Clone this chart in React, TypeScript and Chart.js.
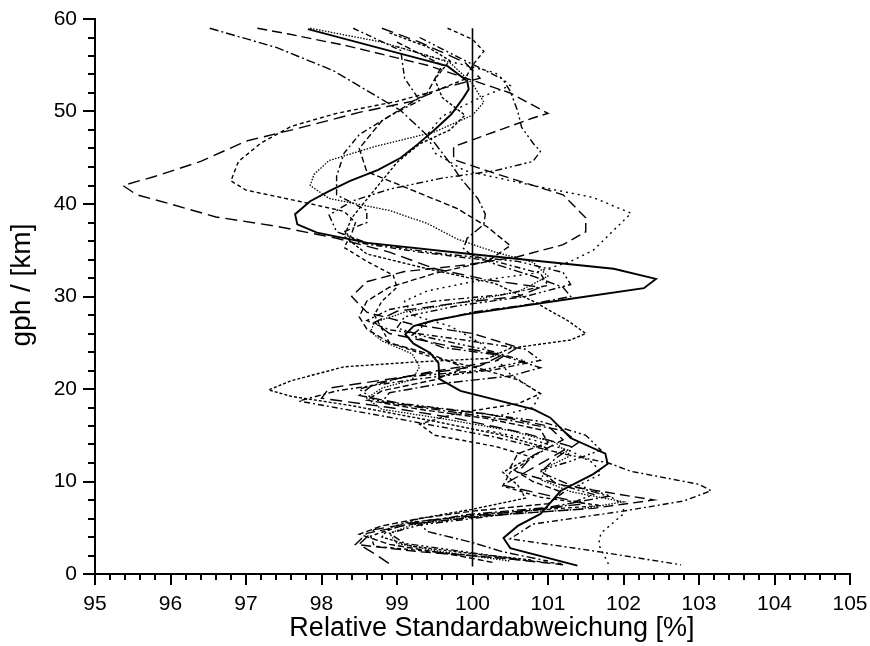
import React, { useEffect, useRef } from "react";
import { Chart, registerables } from "chart.js";

Chart.register(...registerables);

// ---- axis ranges and labels ----
const X_MIN = 95;
const X_MAX = 105;
const Y_MIN = 0;
const Y_MAX = 60;
const X_TITLE = "Relative Standardabweichung [%]";
const Y_TITLE = "gph / [km]";

// ---- reference line at 100 % ----
const referenceLine = [[100, 0.8], [100, 59]];

// ---- profiles: [relative std. dev. %, gph km] ----
const meanProfile = [
  [97.82, 58.9], [98.47, 57.5], [99.07, 56.2], [99.67, 54.9], [99.93, 53.3], [99.95, 52.4], [99.88, 51.5],
  [99.72, 49.7], [99.48, 47.9], [99.28, 46.5], [99.05, 45.0], [98.75, 43.7], [98.38, 42.5], [98.1, 41.4],
  [97.85, 40.3], [97.65, 38.9], [97.68, 37.8], [97.94, 36.9], [98.61, 35.8], [99.97, 34.6], [101.87, 33.0],
  [102.43, 31.9], [102.27, 30.9], [101.26, 29.7], [99.93, 28.1], [99.48, 27.4], [99.22, 26.8], [99.11, 25.9],
  [99.22, 24.9], [99.44, 23.9], [99.55, 22.8], [99.56, 21.1], [99.84, 19.8], [100.81, 17.8], [101.03, 16.9],
  [101.3, 14.7], [101.76, 13.0], [101.79, 11.9], [101.6, 10.8], [101.17, 9.0], [100.9, 6.5], [100.6, 5.2],
  [100.41, 3.9], [100.5, 2.8], [101.39, 0.9],
];

const profileA = [
  [97.15, 59], [97.55, 58.4], [98.34, 57.1], [99.4, 55.0], [100.5, 52.0], [101.0, 49.8], [100.8, 49.3],
  [99.75, 46.2], [99.75, 44.8], [100.3, 43.3], [101.2, 41.0], [101.5, 38.5], [101.5, 37.0], [101.2, 35.6],
  [100.6, 34.3], [99.9, 33.4], [99.1, 32.7], [98.6, 31.6], [98.4, 30.0], [98.6, 28.3], [99.2, 27.0],
  [100.0, 26.0], [100.6, 24.5], [100.3, 23.0], [99.4, 21.8], [98.7, 20.6], [98.5, 19.3], [99.2, 18.2],
  [100.2, 17.3], [101.0, 16.0], [101.2, 14.5], [100.8, 12.8], [100.6, 11.0], [101.2, 9.6], [102.4, 8.0],
  [101.6, 7.1], [100.2, 6.3], [99.2, 5.4], [98.6, 4.4], [98.45, 3.2], [99.3, 2.4], [100.4, 1.7], [101.2, 1.0],
];

const profileB = [
  [98.8, 59], [99.3, 57.5], [99.9, 55.3], [100.1, 53.6], [99.6, 52.5], [99.2, 51.1], [98.5, 49.9],
  [97.7, 48.2], [97.0, 46.8], [96.4, 44.6], [95.8, 43.0], [95.37, 42.0], [95.55, 41.0], [96.0, 40.0],
  [96.6, 38.6], [97.4, 37.6], [98.2, 36.3], [98.9, 34.8], [99.5, 33.0], [100.2, 31.8], [100.9, 31.0],
  [100.6, 30.0], [99.8, 29.3], [99.0, 28.4], [98.7, 27.2], [98.9, 26.0], [99.6, 24.8], [100.4, 23.7],
  [100.1, 22.5], [99.0, 21.2], [98.1, 20.1], [98.0, 19.0], [98.9, 18.0], [99.8, 16.8], [100.7, 15.2],
  [101.3, 13.8], [101.0, 12.4], [100.7, 11.0], [100.4, 9.6], [101.0, 8.5], [101.5, 7.6], [100.4, 6.6],
  [99.4, 5.8], [98.7, 4.8], [98.5, 3.2], [98.7, 2.2], [98.9, 1.1],
];

const profileC = [
  [99.67, 59], [100.0, 57.8], [100.15, 56.5], [100.0, 55.0], [99.9, 53.5], [99.5, 52.2], [99.0, 51.1],
  [98.2, 49.8], [97.6, 48.4], [97.2, 46.6], [96.9, 44.6], [96.8, 42.5], [97.0, 41.5], [97.7, 40.3],
  [98.3, 39.2], [98.45, 38.0], [98.4, 36.8], [98.3, 35.3], [98.6, 33.8], [98.95, 32.3], [99.0, 31.0],
  [98.8, 29.5], [98.7, 28.0], [98.8, 26.5], [98.9, 25.0], [99.4, 23.6], [100.1, 22.2], [100.6, 21.0],
  [100.9, 19.5], [100.6, 18.4], [99.8, 17.4], [99.3, 16.2], [99.5, 15.0], [100.3, 13.8], [100.8, 12.6],
  [100.5, 11.0], [100.4, 9.5], [100.9, 8.3], [101.7, 7.4], [100.15, 6.5], [99.2, 5.6], [98.65, 4.1],
  [98.7, 3.0], [100.0, 2.0], [101.2, 1.1],
];

const profileD = [
  [97.85, 59], [98.8, 57.5], [99.7, 55.3], [100.0, 53.0], [100.15, 51.0], [100.0, 49.6], [99.5, 47.8],
  [98.7, 46.2], [98.1, 44.7], [97.9, 43.2], [97.85, 42.0], [98.1, 40.6], [98.9, 39.3], [99.4, 37.9],
  [99.8, 36.2], [100.3, 34.8], [100.8, 33.7], [101.0, 32.2], [100.6, 30.5], [99.8, 29.3], [99.1, 28.3],
  [98.7, 27.2], [98.65, 26.2], [98.8, 25.2], [99.2, 23.8], [99.3, 22.4], [99.2, 21.0], [98.8, 20.1],
  [98.6, 19.0], [98.8, 17.8], [99.6, 16.8], [100.5, 15.5], [101.1, 14.2], [101.3, 12.8], [101.0, 11.6],
  [100.9, 10.2], [101.3, 8.9], [102.0, 7.8], [101.4, 7.0], [100.0, 6.2], [99.2, 5.3], [98.9, 4.4],
  [99.0, 3.3], [99.6, 2.4], [100.5, 1.4],
];

const profileE = [
  [99.0, 57.0], [99.6, 55.6], [100.3, 54.2], [100.5, 52.8], [100.1, 51.5], [99.6, 49.5], [99.4, 47.5],
  [99.5, 45.5], [99.9, 43.6], [100.8, 42.0], [101.6, 40.7], [102.1, 39.0], [101.9, 37.4], [101.6, 35.0],
  [101.3, 33.8], [100.8, 32.5], [100.0, 31.6], [99.4, 30.6], [99.1, 29.5], [99.2, 28.0], [99.7, 26.8],
  [100.1, 25.0], [100.3, 23.4], [100.5, 21.6], [100.9, 19.5], [100.8, 18.0], [100.3, 17.0], [100.2, 15.5],
  [100.8, 14.5], [101.3, 13.3], [101.6, 12.0], [101.7, 10.8], [101.4, 9.6], [101.8, 8.5], [102.0, 7.5],
  [102.0, 6.5], [101.7, 4.4], [101.67, 3.2], [101.8, 1.1],
];

const profileF = [
  [96.52, 59], [97.41, 56.9], [98.16, 54.4], [99.05, 50.1], [99.48, 46.8], [99.75, 43.9], [99.84, 42.8],
  [100.07, 40.6], [100.17, 38.9], [100.15, 37.8], [99.93, 36.3], [99.88, 35.2], [99.97, 34.6], [100.3, 33.5],
  [100.8, 32.2], [101.2, 31.0], [101.3, 30.0], [100.8, 29.2], [100.0, 28.3], [99.4, 27.2], [99.2, 25.8],
  [99.6, 24.5], [100.4, 23.6], [100.9, 22.3], [100.5, 21.4], [99.6, 20.6], [98.9, 19.6], [98.8, 18.6],
  [99.5, 17.8], [100.5, 16.6], [101.2, 15.5], [101.4, 14.2], [101.1, 12.5], [100.9, 11.0], [101.3, 9.6],
  [101.8, 8.4], [101.0, 7.2], [99.9, 6.4], [99.3, 5.5], [99.4, 4.6], [100.0, 3.4], [100.4, 2.4], [101.0, 1.4],
];

const profileG = [
  [98.42, 59], [99.05, 56.6], [99.1, 53.6], [99.3, 51.2], [98.9, 49.5], [98.5, 47.5], [98.3, 45.5],
  [98.2, 43.0], [98.2, 41.0], [98.6, 39.3], [98.6, 38.0], [98.3, 37.0], [98.5, 35.8], [99.3, 34.8],
  [100.3, 33.8], [100.9, 32.5], [101.0, 31.2], [100.4, 30.2], [99.5, 29.5], [98.9, 28.6], [98.6, 27.4],
  [98.9, 26.4], [99.8, 25.4], [100.7, 24.3], [100.9, 23.1], [100.3, 22.1], [99.2, 21.0], [98.2, 19.8],
  [97.7, 18.7], [99.0, 16.8], [100.3, 14.8], [101.2, 13.0], [101.8, 12.0], [102.1, 11.1], [103.0, 9.7],
  [103.16, 9.0], [102.8, 7.9], [102.0, 6.8], [100.8, 5.4], [100.5, 3.8], [101.6, 2.5], [102.76, 1.0],
];

const profileH = [
  [98.9, 58.5], [99.4, 57.0], [99.7, 55.5], [99.5, 53.5], [99.6, 51.5], [99.9, 49.6], [99.7, 48.0],
  [99.3, 46.5], [99.0, 44.5], [98.8, 42.5], [98.6, 40.5], [98.4, 38.5], [98.3, 36.5], [98.6, 34.6],
  [99.4, 33.0], [100.3, 31.4], [100.8, 29.5], [101.26, 27.4], [101.5, 26.0], [101.3, 25.3], [100.5, 24.4],
  [100.2, 23.3], [99.2, 22.9], [98.3, 22.4], [97.6, 20.9], [97.3, 19.9], [97.6, 19.2], [98.4, 18.2],
  [99.5, 16.5], [100.4, 15.0], [101.0, 13.6], [100.7, 12.3], [100.4, 11.0], [100.6, 9.6], [100.7, 8.2],
  [100.0, 7.0], [99.3, 6.0], [98.9, 5.0], [98.8, 4.0], [99.2, 3.0], [100.0, 2.2], [100.8, 1.5],
];

const profileI = [
  [99.3, 58.0], [99.9, 55.5], [100.4, 53.5], [100.5, 52.2], [100.6, 50.0], [100.65, 48.3], [100.8, 46.6],
  [100.9, 45.7], [100.8, 44.6], [100.3, 43.6], [99.6, 42.8], [98.9, 41.6], [98.4, 40.3], [98.1, 38.8],
  [98.2, 37.0], [98.6, 35.8], [99.5, 34.7], [100.6, 33.8], [101.2, 32.6], [101.3, 31.3], [100.7, 30.0],
  [99.8, 29.0], [99.1, 27.8], [99.0, 26.6], [99.4, 25.6], [100.2, 24.2], [100.7, 23.0], [100.1, 22.0],
  [99.1, 21.3], [98.5, 20.0], [98.7, 18.8], [99.8, 17.7], [100.9, 16.5], [101.5, 15.0], [101.7, 13.4],
  [101.3, 12.2], [100.9, 11.2], [101.1, 9.8], [101.6, 8.6], [101.2, 7.3], [100.2, 6.2], [99.3, 5.3],
  [98.9, 4.4], [99.1, 3.3], [99.9, 2.4], [100.6, 1.6],
];

const profileJ = [
  [99.0, 57.5], [99.6, 55.0], [99.4, 52.0], [98.8, 49.0], [98.5, 46.0], [98.6, 43.5], [99.2, 41.5],
  [99.8, 39.5], [100.2, 37.5], [100.5, 35.5], [100.2, 33.8], [99.5, 32.5], [98.9, 31.0], [98.6, 29.5],
  [98.5, 27.8], [98.6, 26.5], [98.9, 25.0], [99.5, 23.6], [99.9, 22.3], [99.5, 21.0], [98.8, 19.8],
  [98.6, 18.8], [99.3, 17.8], [100.2, 16.8], [100.9, 15.6], [101.0, 14.2], [100.6, 13.0], [100.5, 11.5],
  [100.8, 10.0], [101.2, 8.8], [101.0, 7.6], [100.0, 6.8], [99.3, 6.0], [98.8, 5.2], [98.5, 4.3],
  [98.9, 3.2], [99.8, 2.0], [100.3, 1.2],
];

// ---- drawing styles (kept apart from data) ----
const seriesList = [
  { data: referenceLine, dash: [], width: 1.6 },
  { data: profileA, dash: [10, 5], width: 1.4 },
  { data: profileB, dash: [12, 6], width: 1.4 },
  { data: profileC, dash: [4, 3], width: 1.4 },
  { data: profileD, dash: [1.5, 1.5], width: 1.3 },
  { data: profileE, dash: [2, 4], width: 1.4 },
  { data: profileF, dash: [9, 3, 2, 3], width: 1.4 },
  { data: profileG, dash: [6, 3, 2, 3], width: 1.4 },
  { data: profileH, dash: [3, 2], width: 1.4 },
  { data: profileI, dash: [7, 3, 2, 3, 2, 3], width: 1.4 },
  { data: profileJ, dash: [6, 3], width: 1.4 },
  { data: meanProfile, dash: [], width: 1.9 },
];

const FONT = '"Liberation Sans", Arial, Helvetica, sans-serif';

const axisDecor = {
  id: "axisDecor",
  afterDraw(chart: any) {
    const { ctx, chartArea } = chart;
    const xs = chart.scales.x;
    const ys = chart.scales.y;
    ctx.save();
    ctx.strokeStyle = "#000";
    ctx.lineWidth = 2;
    ctx.beginPath();
    for (let i = 0; i <= 50; i++) {
      const v = X_MIN + i * 0.2;
      const px = Math.round(xs.getPixelForValue(v));
      const len = i % 5 === 0 ? 11 : 6;
      ctx.moveTo(px, chartArea.bottom);
      ctx.lineTo(px, chartArea.bottom + len);
    }
    for (let j = 0; j <= 30; j++) {
      const v = Y_MIN + j * 2;
      const py = Math.round(ys.getPixelForValue(v));
      const len = j % 5 === 0 ? 12 : 7;
      ctx.moveTo(chartArea.left, py);
      ctx.lineTo(chartArea.left - len, py);
    }
    ctx.stroke();

    ctx.fillStyle = "#000";
    ctx.font = `27px ${FONT}`;
    ctx.textAlign = "center";
    ctx.textBaseline = "alphabetic";
    ctx.fillText(X_TITLE, 492, 636);
    ctx.font = `28px ${FONT}`;
    ctx.translate(22, 285);
    ctx.rotate(-Math.PI / 2);
    ctx.textBaseline = "middle";
    ctx.fillText(Y_TITLE, 0, 0);
    ctx.restore();
  },
};

export default function App() {
  const ref = useRef<HTMLCanvasElement | null>(null);

  useEffect(() => {
    if (!ref.current) return;
    const chart = new Chart(ref.current, {
      type: "scatter",
      data: {
        datasets: seriesList.map((s) => ({
          data: s.data.map(([x, y]) => ({ x, y })),
          showLine: true,
          borderColor: "#000",
          backgroundColor: "#000",
          borderWidth: s.width,
          borderDash: s.dash,
          pointRadius: 0,
          tension: 0,
        })),
      },
      options: {
        animation: false,
        responsive: false,
        devicePixelRatio: 1,
        layout: { padding: { top: 19, right: 20, left: 0, bottom: 0 } },
        plugins: { legend: { display: false }, tooltip: { enabled: false } },
        scales: {
          x: {
            type: "linear",
            min: X_MIN,
            max: X_MAX,
            grid: { display: false, drawTicks: false },
            border: { display: true, color: "#000", width: 2 },
            ticks: {
              stepSize: 1,
              color: "#000",
              font: { family: FONT, size: 21 },
              padding: 18,
              maxRotation: 0,
              autoSkip: false,
            },
            afterFit: (scale: any) => {
              scale.height = 72;
              scale.paddingLeft = 0;
              scale.paddingRight = 0;
            },
          },
          y: {
            type: "linear",
            min: Y_MIN,
            max: Y_MAX,
            grid: { display: false, drawTicks: false },
            border: { display: true, color: "#000", width: 2 },
            ticks: {
              stepSize: 10,
              color: "#000",
              font: { family: FONT, size: 21 },
              padding: 18,
              autoSkip: false,
            },
            afterFit: (scale: any) => {
              scale.width = 95;
              scale.paddingTop = 0;
              scale.paddingBottom = 0;
            },
          },
        },
      },
      plugins: [axisDecor],
    });
    return () => chart.destroy();
  }, []);

  return (
    <div style={{ position: "fixed", left: 0, top: 0, width: 870, height: 646, background: "#fff" }}>
      <canvas ref={ref} width={870} height={646} />
    </div>
  );
}
